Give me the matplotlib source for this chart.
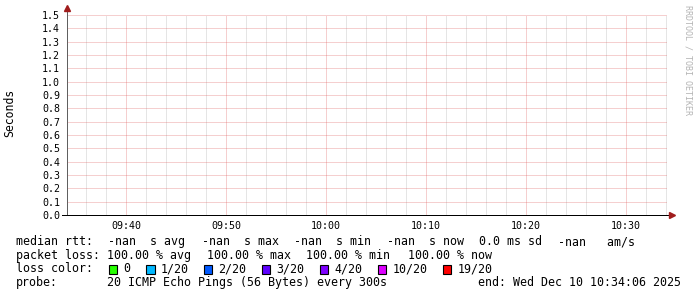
import matplotlib
matplotlib.use("Agg")
import matplotlib.pyplot as plt
from matplotlib.patches import Rectangle

W, H = 697, 297

# time axis, minutes since midnight (09:34:06 .. 10:34:06)
t_start = 9 * 60 + 34.1
t_end = 10 * 60 + 34.1
time_ticks = [580, 590, 600, 610, 620, 630]
time_labels = ["09:40", "09:50", "10:00", "10:10", "10:20", "10:30"]
minor_ticks = list(range(576, 636, 2))

y_ticks = [0.0, 0.1, 0.2, 0.3, 0.4, 0.5, 0.6, 0.7, 0.8, 0.9, 1.0, 1.1, 1.2, 1.3, 1.4, 1.5]

# legend values
rtt_names = ["avg", "max", "min", "now"]
rtt_values = ["-nan", "-nan", "-nan", "-nan"]
rtt_sd = 0.0
rtt_ams = "-nan"
loss_names = ["avg", "max", "min", "now"]
loss_values = [100.00, 100.00, 100.00, 100.00]
loss_levels = ["0", "1/20", "2/20", "3/20", "4/20", "10/20", "19/20"]
loss_colors = ["#26ff00", "#00b8ff", "#0059ff", "#5e00ff", "#7e00ff", "#dd00ff", "#ff0000"]
probe_desc = "20 ICMP Echo Pings (56 Bytes) every 300s"
end_stamp = "Wed Dec 10 10:34:06 2025"

MONO = "DejaVu Sans Mono"
plt.rcParams["font.family"] = MONO


def px(x, y):
    return x / W, 1 - y / H


fig = plt.figure(figsize=(W / 100, H / 100), dpi=100)
fig.patch.set_facecolor("white")

ax = fig.add_axes([67 / W, (H - 215) / H, 600 / W, 200 / H])
ax.set_xlim(t_start, t_end)
ax.set_ylim(0, 1.5)
for s in ax.spines.values():
    s.set_visible(False)

dot = (0, (1, 1))
lw = 0.72
for t in minor_ticks:
    if t not in time_ticks:
        ax.axvline(t, color="#8f8f8f", alpha=0.45, lw=lw, ls=dot, zorder=1)
for t in time_ticks:
    ax.axvline(t, color="#de5050", alpha=0.55, lw=lw, ls=dot, zorder=1)
for y in y_ticks[1:]:
    ax.axhline(y, xmax=602 / 600, color="#de5050", alpha=0.55, lw=lw, ls=dot, zorder=1)

# axes with arrows
arrow_col = "#a01c1c"
ax.plot([t_start, t_start], [0, 1.545], color="#606060", lw=lw, clip_on=False, zorder=3)
ax.plot([t_start - 0.5, t_start + 60.3], [0, 0], color="black", lw=lw, clip_on=False, zorder=3)
ax.plot([t_start], [1.553], marker="^", ms=5, color=arrow_col, clip_on=False, zorder=4)
ax.plot([t_start + 60.5], [0], marker=">", ms=5, color=arrow_col, clip_on=False, zorder=4)

ax.set_xticks(time_ticks, time_labels)
ax.set_yticks(y_ticks, ["%.1f" % v for v in y_ticks])
ax.tick_params(axis="x", length=0, pad=4, labelsize=7.2)
ax.tick_params(axis="y", length=0, pad=5, labelsize=7.2)

fig.text(*px(10, 113), "Seconds", rotation=90, ha="center", va="center", fontsize=8.3)
fig.text(*px(688, 5), "RRDTOOL / TOBI OETIKER", rotation=270, ha="center", va="top",
         fontsize=6, color="#b4b4b4")

# legend
rows = [241.6, 255.3, 269.0, 282.8]
fs = 8.4
fig.text(*px(16, rows[0]), "median rtt:", fontsize=fs, va="center")
rtt_x = [108, 201.5, 294, 386.5]
for x, v, n in zip(rtt_x, rtt_values, rtt_names):
    fig.text(*px(x, rows[0]), "%s  s %s" % (v, n), fontsize=fs, va="center")
fig.text(*px(479, rows[0]), "%.1f ms sd" % rtt_sd, fontsize=fs, va="center")
fig.text(*px(558, rows[0]), "%s   am/s" % rtt_ams, fontsize=fs, va="center")

fig.text(*px(16, rows[1]), "packet loss:", fontsize=fs, va="center")
loss_x = [107, 207, 306.5, 408]
for x, v, n in zip(loss_x, loss_values, loss_names):
    fig.text(*px(x, rows[1]), "%.2f %% %s" % (v, n), fontsize=fs, va="center")

fig.text(*px(16, rows[2]), "loss color:", fontsize=fs, va="center")
box_x = [108.5, 146, 203.5, 261.5, 319.5, 377.5, 442.5]
for x, lab, c in zip(box_x, loss_levels, loss_colors):
    bx, by = px(x, rows[2] + 4.5)
    fig.add_artist(Rectangle((bx, by), 8.5 / W, 8.5 / H, transform=fig.transFigure,
                             facecolor=c, edgecolor="black", lw=0.8))
    fig.text(*px(x + 15, rows[2]), lab, fontsize=fs, va="center")

fig.text(*px(16, rows[3]), "probe:", fontsize=fs, va="center")
fig.text(*px(107, rows[3]), probe_desc, fontsize=fs, va="center")
fig.text(*px(478, rows[3]), "end: " + end_stamp, fontsize=fs, va="center")

fig.savefig("out.png", dpi=100, facecolor="white")
